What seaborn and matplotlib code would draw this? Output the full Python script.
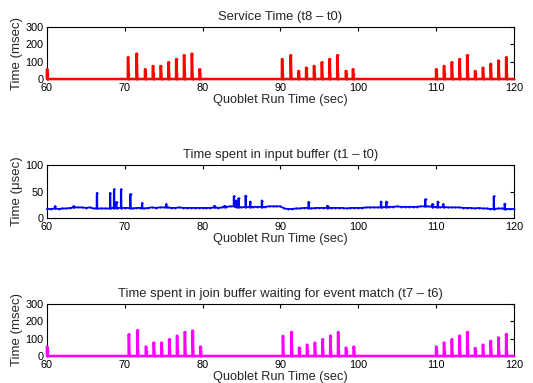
import numpy as np
import pandas as pd
import matplotlib
matplotlib.use("Agg")
import matplotlib.pyplot as plt
import seaborn as sns

# ---- data -------------------------------------------------------------
# Service time spikes (t8 - t0), msec
service_times = [60.0, 70.4, 71.5, 72.6, 73.6, 74.6, 75.6, 76.6, 77.6, 78.6, 79.6,
                 90.2, 91.3, 92.3, 93.3, 94.3, 95.3, 96.3, 97.3, 98.4, 99.3,
                 110.0, 111.0, 112.0, 113.0, 114.0, 115.0, 116.0, 117.0, 118.0, 119.0]
service_peaks = [55, 125, 146, 56, 75, 75, 96, 115, 137, 146, 56,
                 115, 137, 46, 65, 75, 96, 115, 137, 46, 56,
                 56, 75, 96, 115, 137, 46, 65, 87, 106, 125]

# Join buffer wait spikes (t7 - t6), msec
join_times = [60.0, 70.5, 71.6, 72.7, 73.7, 74.7, 75.7, 76.7, 77.7, 78.7, 79.7,
              90.3, 91.4, 92.4, 93.4, 94.4, 95.4, 96.4, 97.4, 98.4, 99.4,
              110.0, 111.0, 112.0, 113.0, 114.0, 115.0, 116.0, 117.0, 118.0, 119.0]
join_peaks = [54, 125, 148, 54, 77, 77, 96, 117, 138, 146, 54,
              115, 138, 48, 65, 77, 96, 117, 138, 48, 54,
              54, 77, 96, 117, 138, 46, 65, 87, 106, 127]

# Input buffer time (t1 - t0), usec: base level every 0.5 s plus spikes
input_base_t = [60.0 + 0.5 * i for i in range(121)]
input_base_v = [17, 17, 18, 17, 18, 18, 19, 20, 20, 20, 19, 20, 18, 18, 18, 18, 18, 19, 19, 19,
                19, 19, 18, 19, 19, 18, 19, 20, 19, 20, 20, 20, 19, 19, 20, 19, 19, 19, 19, 19,
                19, 19, 19, 20, 19, 20, 21, 22, 22, 21, 20, 21, 21, 21, 21, 21, 21, 22, 22, 22,
                22, 18, 17, 17, 18, 18, 19, 19, 18, 19, 19, 19, 19, 19, 19, 19, 19, 18, 19, 19,
                19, 19, 20, 20, 20, 20, 20, 21, 21, 21, 22, 21, 21, 21, 21, 21, 22, 22, 22, 21,
                21, 20, 21, 20, 20, 20, 20, 19, 19, 19, 18, 19, 18, 18, 17, 17, 18, 18, 17, 17,
                17]
input_spike_t = [61.0, 63.4, 66.4, 68.1, 68.6, 68.9, 69.5, 70.7, 72.2, 75.3, 81.5, 82.8,
                 84.0, 84.3, 84.6, 85.5, 86.1, 87.6, 93.6, 96.0, 102.9, 103.6, 108.6,
                 109.5, 110.2, 110.9, 117.4, 118.8]
input_spike_v = [22, 22, 47, 47, 54, 30, 54, 45, 28, 26, 23, 23,
                 41, 33, 37, 42, 31, 33, 30, 23, 31, 31, 35,
                 26, 31, 26, 41, 27]

x_ticks = [60, 70, 80, 90, 100, 110, 120]


def spike_series(times, peaks, start=60.0, end=120.0):
    """Zero baseline with narrow spikes rising to each peak."""
    t, v = [start], [0.0]
    for ti, pi in zip(times, peaks):
        t += [ti, ti, ti + 0.06, ti + 0.1, ti + 0.14]
        v += [0.0, pi, pi, 30.0 if pi > 30 else 0.0, 0.0]
    t.append(end)
    v.append(0.0)
    return pd.DataFrame({"t": t, "v": v})


def buffer_series():
    pts = list(zip(input_base_t, input_base_v))
    base = dict(zip(input_base_t, input_base_v))
    for ti, pi in zip(input_spike_t, input_spike_v):
        b = base[round(ti * 2) / 2]
        pts += [(ti - 0.01, b), (ti, pi), (ti + 0.06, pi), (ti + 0.08, b)]
    pts.sort(key=lambda p: p[0])
    return pd.DataFrame({"t": [p[0] for p in pts], "v": [p[1] for p in pts]})


# ---- figure -----------------------------------------------------------
sns.set_style("white")
plt.rcParams["font.family"] = ["Liberation Sans", "DejaVu Sans"]
plt.rcParams["font.size"] = 8

fig = plt.figure(figsize=(5.33, 3.83), dpi=100)
left, width = 0.088, 0.876
rects = [(left, 0.7937, width, 0.1358),
         (left, 0.4308, width, 0.1384),
         (left, 0.0705, width, 0.1358)]

panels = [
    (spike_series(service_times, service_peaks), "#ff0000", "Service Time (t8 \u2013 t0)",
     "Time (msec)", [0, 300], [0, 100, 200, 300], 1.8),
    (buffer_series(), "#0000ff", "Time spent in input buffer (t1 \u2013 t0)",
     "Time (\u03bcsec)", [0, 100], [0, 50, 100], 1.3),
    (spike_series(join_times, join_peaks), "#ff00ff",
     "Time spent in join buffer waiting for event match (t7 \u2013 t6)",
     "Time (msec)", [0, 300], [0, 100, 200, 300], 1.8),
]

for rect, (df, color, title, ylabel, ylim, yticks, lw) in zip(rects, panels):
    ax = fig.add_axes(rect)
    sns.lineplot(data=df, x="t", y="v", ax=ax, color=color, estimator=None,
                 sort=False, linewidth=lw, marker=".", markersize=2.8,
                 markeredgewidth=0, clip_on=False, zorder=5)
    ax.set_xlim(60, 120)
    ax.set_ylim(*ylim)
    ax.set_xticks(x_ticks)
    ax.set_yticks(yticks)
    ax.set_title(title, fontsize=9.4, pad=5)
    ax.set_ylabel(ylabel, fontsize=9.5, labelpad=2)
    ax.set_xlabel("Quoblet Run Time (sec)", fontsize=9.2, labelpad=0.5)
    ax.tick_params(direction="in", length=3, width=0.8, top=True, right=True,
                   labelsize=7.8, colors="black")
    ax.tick_params(axis="x", pad=3)
    ax.tick_params(axis="y", pad=2.5)
    for s in ax.spines.values():
        s.set_visible(True)
        s.set_color("black")
        s.set_linewidth(0.8)

fig.savefig("out.png", dpi=100, facecolor="white")
